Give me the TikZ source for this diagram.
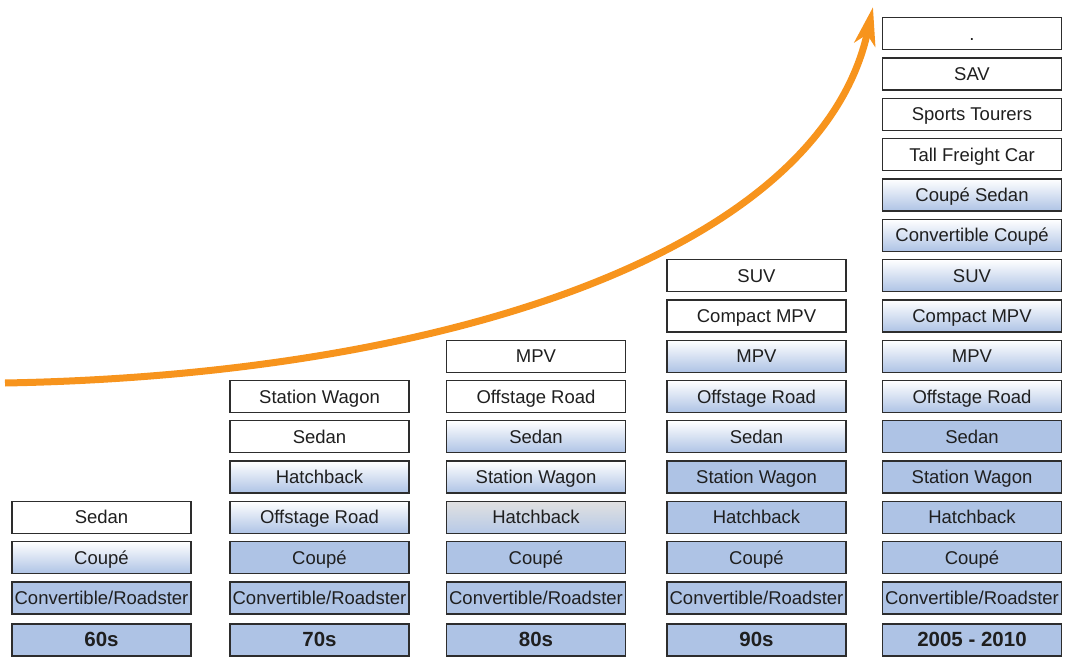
\documentclass[tikz,border=0pt]{standalone}
\usepackage{fontspec}
\setmainfont{Liberation Sans}
\usetikzlibrary{arrows.meta}

\definecolor{carblue}{RGB}{174,195,229}
\definecolor{trendorange}{RGB}{247,148,29}
\definecolor{boxline}{RGB}{45,45,45}

\begin{document}
\begin{tikzpicture}[
  x=1pt,
  y=-1pt,
  body/.style={
    draw=boxline,
    line width=1.3pt,
    minimum width=179pt,
    minimum height=32pt,
    inner sep=0pt,
    text height=15pt,
    text depth=2pt,
    text=black!88,
    font=\fontsize{18.5}{20}\selectfont
  },
  plain/.style={body, fill=white},
  faded/.style={body, top color=white, bottom color=carblue},
  greyfaded/.style={body, top color=black!12, bottom color=carblue!90},
  solid/.style={body, fill=carblue},
  era/.style={solid, font=\fontsize{20.5}{22}\bfseries\selectfont},
  trend/.style={
    draw=trendorange,
    line width=7pt,
    -{Stealth[length=38pt, width=21pt, inset=10pt]}
  }
]
\useasboundingbox (0,0) rectangle (1066,658);

% ---------------------------------------------------------------------------
% 60s
% ---------------------------------------------------------------------------
\node[era] (s60-era) at (101.5,640) {60s};
\node[solid] (s60-conv) at (101.5,598) {Convertible/Roadster};
\node[faded] (s60-coupe) at (101.5,557.7) {Coupé};
\node[plain] (s60-sedan) at (101.5,517.4) {Sedan};

% ---------------------------------------------------------------------------
% 70s
% ---------------------------------------------------------------------------
\node[era] (s70-era) at (319.5,640) {70s};
\node[solid] (s70-conv) at (319.5,598) {Convertible/Roadster};
\node[solid] (s70-coupe) at (319.5,557.7) {Coupé};
\node[faded] (s70-offroad) at (319.5,517.4) {Offstage Road};
\node[faded] (s70-hatch) at (319.5,477.1) {Hatchback};
\node[plain] (s70-sedan) at (319.5,436.8) {Sedan};
\node[plain] (s70-wagon) at (319.5,396.5) {Station Wagon};

% ---------------------------------------------------------------------------
% 80s
% ---------------------------------------------------------------------------
\node[era] (s80-era) at (536,640) {80s};
\node[solid] (s80-conv) at (536,598) {Convertible/Roadster};
\node[solid] (s80-coupe) at (536,557.7) {Coupé};
\node[greyfaded] (s80-hatch) at (536,517.4) {Hatchback};
\node[faded] (s80-wagon) at (536,477.1) {Station Wagon};
\node[faded] (s80-sedan) at (536,436.8) {Sedan};
\node[plain] (s80-offroad) at (536,396.5) {Offstage Road};
\node[plain] (s80-mpv) at (536,356.2) {MPV};

% ---------------------------------------------------------------------------
% 90s
% ---------------------------------------------------------------------------
\node[era] (s90-era) at (756.5,640) {90s};
\node[solid] (s90-conv) at (756.5,598) {Convertible/Roadster};
\node[solid] (s90-coupe) at (756.5,557.7) {Coupé};
\node[solid] (s90-hatch) at (756.5,517.4) {Hatchback};
\node[solid] (s90-wagon) at (756.5,477.1) {Station Wagon};
\node[faded] (s90-sedan) at (756.5,436.8) {Sedan};
\node[faded] (s90-offroad) at (756.5,396.5) {Offstage Road};
\node[faded] (s90-mpv) at (756.5,356.2) {MPV};
\node[plain] (s90-cmpv) at (756.5,315.9) {Compact MPV};
\node[plain] (s90-suv) at (756.5,275.6) {SUV};

% ---------------------------------------------------------------------------
% 2005 - 2010
% ---------------------------------------------------------------------------
\node[era] (s05-era) at (972,640) {2005 - 2010};
\node[solid] (s05-conv) at (972,598) {Convertible/Roadster};
\node[solid] (s05-coupe) at (972,557.7) {Coupé};
\node[solid] (s05-hatch) at (972,517.4) {Hatchback};
\node[solid] (s05-wagon) at (972,477.1) {Station Wagon};
\node[solid] (s05-sedan) at (972,436.8) {Sedan};
\node[faded] (s05-offroad) at (972,396.5) {Offstage Road};
\node[faded] (s05-mpv) at (972,356.2) {MPV};
\node[faded] (s05-cmpv) at (972,315.9) {Compact MPV};
\node[faded] (s05-suv) at (972,275.6) {SUV};
\node[faded] (s05-convcoupe) at (972,235.3) {Convertible Coupé};
\node[faded] (s05-coupesedan) at (972,195) {Coupé Sedan};
\node[plain] (s05-freight) at (972,154.7) {Tall Freight Car};
\node[plain] (s05-tourer) at (972,114.4) {Sports Tourers};
\node[plain] (s05-sav) at (972,74.1) {SAV};
\node[plain] (s05-dot) at (972,33.8) {.};

% Growth arrow.
\coordinate (trend-start) at (5,383);
\coordinate (trend-end) at (873,7);
\draw[trend] (trend-start) .. controls (450,375) and (820,250) .. (trend-end);
\end{tikzpicture}
\end{document}
